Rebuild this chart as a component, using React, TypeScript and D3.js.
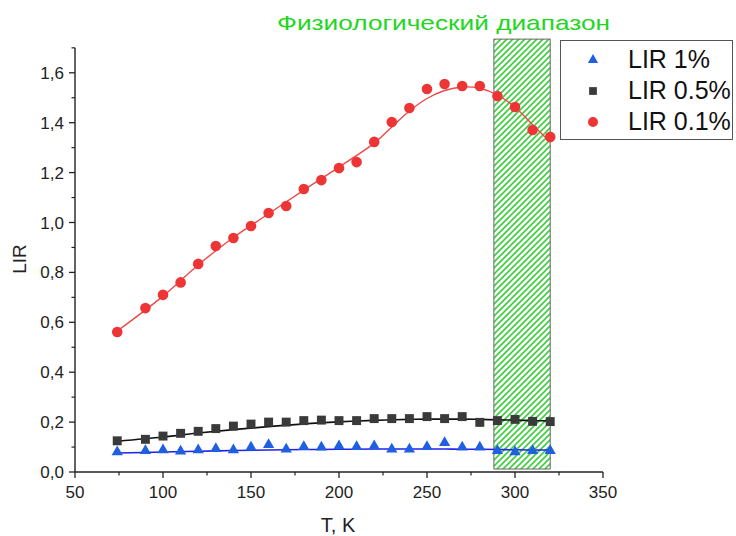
import React from "react";
import * as d3 from "d3";

const temps = [74, 90, 100, 110, 120, 130, 140, 150, 160, 170, 180, 190, 200, 210, 220, 230, 240, 250, 260, 270, 280, 290, 300, 310, 320];
const lir1 = [0.080, 0.085, 0.088, 0.083, 0.088, 0.093, 0.088, 0.099, 0.109, 0.091, 0.101, 0.099, 0.104, 0.101, 0.104, 0.091, 0.091, 0.101, 0.117, 0.099, 0.099, 0.085, 0.080, 0.085, 0.085];
const lir05 = [0.125, 0.131, 0.144, 0.155, 0.163, 0.174, 0.184, 0.192, 0.200, 0.200, 0.206, 0.208, 0.206, 0.206, 0.214, 0.214, 0.214, 0.222, 0.214, 0.222, 0.199, 0.206, 0.211, 0.203, 0.202];
const lir01 = [0.561, 0.657, 0.710, 0.760, 0.834, 0.906, 0.938, 0.986, 1.038, 1.066, 1.134, 1.170, 1.218, 1.242, 1.323, 1.403, 1.459, 1.535, 1.555, 1.547, 1.547, 1.507, 1.463, 1.371, 1.343];

const fitTemps = [74, 100, 120, 140, 160, 180, 200, 220, 230, 240, 250, 260, 270, 280, 290, 300, 310, 320];
const fit1 = [0.076, 0.080, 0.083, 0.086, 0.088, 0.090, 0.091, 0.092, 0.092, 0.092, 0.092, 0.092, 0.091, 0.091, 0.090, 0.089, 0.088, 0.088];
const fit05 = [0.123, 0.140, 0.156, 0.170, 0.182, 0.193, 0.201, 0.207, 0.209, 0.211, 0.212, 0.212, 0.212, 0.211, 0.209, 0.208, 0.206, 0.205];
const fit01 = [0.565, 0.705, 0.830, 0.940, 1.035, 1.130, 1.222, 1.318, 1.383, 1.447, 1.497, 1.529, 1.543, 1.538, 1.511, 1.462, 1.392, 1.322];

const xTicks = [50, 100, 150, 200, 250, 300, 350];
const xMinor = [75, 125, 175, 225, 275, 325];
const yTicks = [0, 0.2, 0.4, 0.6, 0.8, 1.0, 1.2, 1.4, 1.6];
const yMinor = [0.1, 0.3, 0.5, 0.7, 0.9, 1.1, 1.3, 1.5, 1.7];
const band = [288, 320];
const legendLabels = ["LIR 1%", "LIR 0.5%", "LIR 0.1%"];
const title = "Физиологический диапазон";

const RED = "#ee3535";
const BLUE = "#1f5fe0";
const BLK = "#3a3a3a";
const GREEN = "#22d622";

export default function App() {
  const x = d3.scaleLinear().domain([50, 350]).range([75, 603]);
  const y = d3.scaleLinear().domain([0, 1.7]).range([472, 472 - 1.7 * 249.5]);
  const line = (vals: number[]) =>
    d3.line<number>().x((_, i) => x(fitTemps[i])).y((v) => y(v)).curve(d3.curveCatmullRom.alpha(0.5))(vals) || "";
  const tri = d3.symbol(d3.symbolTriangle, 55)() || "";
  const sq = d3.symbol(d3.symbolSquare, 80)() || "";
  const fmt = (v: number) => v.toFixed(1).replace(".", ",");
  const axisColor = "#222";
  const bandTop = y(1.735);
  const bandBot = y(0.012);

  return (
    <svg width={736} height={536} style={{ position: "absolute", left: 0, top: 0, background: "#fff" }} fontFamily="Arial, 'Liberation Sans', sans-serif">
      <defs>
        <pattern id="hatch" patternUnits="userSpaceOnUse" width={6} height={6}>
          <rect width={6} height={6} fill="#fff" />
          <path d="M-1,1 l2,-2 M0,6 l6,-6 M5,7 l2,-2" stroke="#3ccf3c" strokeWidth={1.6} />
        </pattern>
      </defs>
      <rect x={0} y={0} width={736} height={536} fill="#fff" />
      <rect x={x(band[0])} y={bandTop} width={x(band[1]) - x(band[0])} height={bandBot - bandTop} fill="url(#hatch)" stroke="#666" strokeWidth={1} />
      <text x={277} y={30} fontSize={21} fill={GREEN} textLength={333} lengthAdjust="spacingAndGlyphs">{title}</text>

      <line x1={x(50)} x2={x(350)} y1={y(0)} y2={y(0)} stroke={axisColor} strokeWidth={1.4} />
      <line x1={x(50)} x2={x(50)} y1={y(0)} y2={y(1.7)} stroke={axisColor} strokeWidth={1.4} />
      {xTicks.map((t) => (
        <g key={"xt" + t}>
          <line x1={x(t)} x2={x(t)} y1={y(0)} y2={y(0) + 6} stroke={axisColor} strokeWidth={1.3} />
          <text x={x(t)} y={498} fontSize={17} textAnchor="middle" fill="#222">{t}</text>
        </g>
      ))}
      {xMinor.map((t) => (
        <line key={"xm" + t} x1={x(t)} x2={x(t)} y1={y(0)} y2={y(0) + 3.5} stroke={axisColor} strokeWidth={1.2} />
      ))}
      {yTicks.map((v) => (
        <g key={"yt" + v}>
          <line x1={x(50) - 6} x2={x(50)} y1={y(v)} y2={y(v)} stroke={axisColor} strokeWidth={1.3} />
          <text x={64} y={y(v) + 6} fontSize={17} textAnchor="end" fill="#222">{fmt(v)}</text>
        </g>
      ))}
      {yMinor.map((v) => (
        <line key={"ym" + v} x1={x(50) - 3.5} x2={x(50)} y1={y(v)} y2={y(v)} stroke={axisColor} strokeWidth={1.2} />
      ))}
      <text transform="translate(26,259) rotate(-90)" fontSize={19} textAnchor="middle" fill="#222">LIR</text>
      <text x={338} y={532} fontSize={20} textAnchor="middle" fill="#222">T, K</text>

      <path d={line(fit1)} fill="none" stroke="#2020f0" strokeWidth={1.6} />
      <path d={line(fit05)} fill="none" stroke="#111" strokeWidth={1.6} />
      <path d={line(fit01)} fill="none" stroke="#f04848" strokeWidth={1.4} />

      {temps.map((t, i) => (
        <path key={"b" + i} d={tri} transform={`translate(${x(t)},${y(lir1[i])})`} fill={BLUE} />
      ))}
      {temps.map((t, i) => (
        <path key={"k" + i} d={sq} transform={`translate(${x(t)},${y(lir05[i])})`} fill={BLK} />
      ))}
      {temps.map((t, i) => (
        <circle key={"r" + i} cx={x(t)} cy={y(lir01[i])} r={5.3} fill={RED} />
      ))}

      <rect x={560.5} y={40.5} width={172} height={99} fill="#fff" stroke="#555" strokeWidth={1} />
      <path d={d3.symbol(d3.symbolTriangle, 45)() || ""} transform="translate(593,60)" fill={BLUE} />
      <path d={d3.symbol(d3.symbolSquare, 60)() || ""} transform="translate(593,91)" fill={BLK} />
      <circle cx={593} cy={122} r={5} fill={RED} />
      {legendLabels.map((l, i) => (
        <text key={l} x={628} y={68 + i * 31} fontSize={25} fill="#111">{l}</text>
      ))}
    </svg>
  );
}
